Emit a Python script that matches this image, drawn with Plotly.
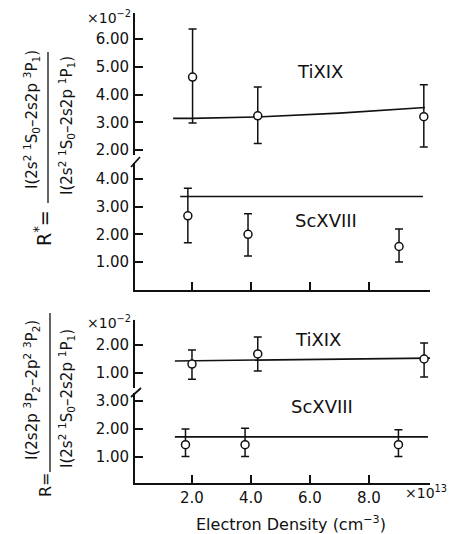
import plotly.graph_objects as go

W, H = 450, 534

# ---------------- data (electron density in 1e13 cm^-3, ratios in 1e-2) ----------------
top_ti_x = [2.02, 4.23, 9.86]
top_ti_y = [4.63, 3.23, 3.20]
top_ti_hi = [6.36, 4.27, 4.35]
top_ti_lo = [2.97, 2.23, 2.11]
top_ti_fit_x = [1.36, 2.0, 4.2, 7.0, 9.9]
top_ti_fit_y = [3.14, 3.14, 3.19, 3.33, 3.53]

top_sc_x = [1.86, 3.90, 9.02]
top_sc_y = [2.67, 2.00, 1.56]
top_sc_hi = [3.67, 2.74, 2.19]
top_sc_lo = [1.70, 1.22, 1.00]
top_sc_fit_x = [1.6, 9.83]
top_sc_fit_y = [3.37, 3.37]

bot_ti_x = [2.00, 4.23, 9.87]
bot_ti_y = [1.32, 1.68, 1.50]
bot_ti_hi = [1.82, 2.29, 2.07]
bot_ti_lo = [0.78, 1.07, 0.86]
bot_ti_fit_x = [1.42, 10.07]
bot_ti_fit_y = [1.43, 1.53]

bot_sc_x = [1.78, 3.80, 9.00]
bot_sc_y = [1.44, 1.44, 1.44]
bot_sc_hi = [2.00, 2.03, 1.97]
bot_sc_lo = [1.02, 1.02, 1.02]
bot_sc_fit_x = [1.42, 10.0]
bot_sc_fit_y = [1.72, 1.72]

x_ticks = [2, 4, 6, 8]
top_ti_ticks = [2, 3, 4, 5, 6]
top_sc_ticks = [1, 2, 3, 4]
bot_ti_ticks = [1, 2]
bot_sc_ticks = [1, 2, 3]

FONT = "DejaVu Sans"
INK = "#111111"


def px(x):
    return x / W


def py(y):
    return 1 - y / H


def dom(top, bottom):
    return [py(bottom), py(top)]


fig = go.Figure()


def add_series(xs, ys, hi, lo, fx, fy, xa, ya):
    fig.add_trace(go.Scatter(x=fx, y=fy, mode="lines", xaxis=xa, yaxis=ya,
                             line=dict(color=INK, width=1.6), showlegend=False,
                             hoverinfo="skip"))
    fig.add_trace(go.Scatter(
        x=xs, y=ys, mode="markers", xaxis=xa, yaxis=ya, showlegend=False,
        marker=dict(symbol="circle", size=8, color="white",
                    line=dict(color=INK, width=1.5)),
        error_y=dict(type="data", symmetric=False,
                     array=[h - v for h, v in zip(hi, ys)],
                     arrayminus=[v - l for v, l in zip(ys, lo)],
                     color=INK, thickness=1.5, width=4)))


add_series(top_sc_x, top_sc_y, top_sc_hi, top_sc_lo, top_sc_fit_x, top_sc_fit_y, "x", "y")
add_series(top_ti_x, top_ti_y, top_ti_hi, top_ti_lo, top_ti_fit_x, top_ti_fit_y, "x", "y2")
add_series(bot_sc_x, bot_sc_y, bot_sc_hi, bot_sc_lo, bot_sc_fit_x, bot_sc_fit_y, "x2", "y3")
add_series(bot_ti_x, bot_ti_y, bot_ti_hi, bot_ti_lo, bot_ti_fit_x, bot_ti_fit_y, "x2", "y4")

xr = [0.068, 10.07]
xdom = [px(135), px(430)]
tickfont = dict(family=FONT, size=15, color=INK)

common_x = dict(range=xr, domain=xdom, showline=True, linecolor=INK, linewidth=1.8,
                ticks="inside", ticklen=8, tickwidth=1.5, tickcolor=INK,
                tickvals=x_ticks, showgrid=False, zeroline=False,
                automargin=False, tickfont=tickfont, ticklabelstandoff=0)
common_y = dict(showline=True, linecolor=INK, linewidth=1.8, ticks="inside",
                ticklen=8, tickwidth=1.5, tickcolor=INK, showgrid=False,
                zeroline=False, automargin=False, tickformat=".2f",
                tickfont=tickfont, ticklabelstandoff=1)

fig.update_layout(
    width=W, height=H, margin=dict(l=0, r=0, t=0, b=0),
    paper_bgcolor="white", plot_bgcolor="rgba(0,0,0,0)", template="none",
    font=dict(family=FONT, color=INK),
    xaxis=dict(common_x, anchor="y", showticklabels=False),
    xaxis2=dict(common_x, anchor="y3", tickformat=".1f"),
    yaxis=dict(common_y, anchor="x", domain=dom(163, 290),
               range=[4 - (290 - 179) / 27.67, 4 - (163 - 179) / 27.67],
               tickvals=top_sc_ticks),
    yaxis2=dict(common_y, anchor="x", domain=dom(13, 155),
                range=[6 - (155 - 39) / 27.75, 6 - (13 - 39) / 27.75],
                tickvals=top_ti_ticks),
    yaxis3=dict(common_y, anchor="x2", domain=dom(393, 483),
                range=[3 - (483 - 401) / 28.0, 3 - (393 - 401) / 28.0],
                tickvals=bot_sc_ticks),
    yaxis4=dict(common_y, anchor="x2", domain=dom(320, 388),
                range=[2 - (388 - 345) / 28.0, 2 - (320 - 345) / 28.0],
                tickvals=bot_ti_ticks),
)

ann = []


def text(x, y, s, size=14, xanchor="center", yanchor="middle", angle=0):
    ann.append(dict(x=px(x), y=py(y), xref="paper", yref="paper", text=s,
                    showarrow=False, xanchor=xanchor, yanchor=yanchor,
                    textangle=angle, font=dict(family=FONT, size=size, color=INK)))


text(320, 71, "TiXIX", 18)
text(326, 220, "ScXVIII", 18)
text(318, 339, "TiXIX", 18)
text(322, 406, "ScXVIII", 18)
text(133, 17, "×10<sup>−2</sup>", 14, xanchor="right")
text(133, 322, "×10<sup>−2</sup>", 14, xanchor="right")
text(403, 492, "×10<sup>13</sup>", 14, xanchor="left")
text(291, 523, "Electron Density (cm<sup>−3</sup>)", 16)

# y-axis titles (rotated fractions)
text(31, 120, "I(2s<sup>2</sup> <sup>1</sup>S<sub>0</sub>–2s2p <sup>3</sup>P<sub>1</sub>)", 15, angle=-90)
text(66, 126, "I(2s<sup>2</sup> <sup>1</sup>S<sub>0</sub>–2s2p <sup>1</sup>P<sub>1</sub>)", 15, angle=-90)
text(43, 228, "R<sup>*</sup>=", 19, angle=-90)
text(31, 390, "I(2s2p <sup>3</sup>P<sub>2</sub>–2p<sup>2</sup> <sup>3</sup>P<sub>2</sub>)", 15, angle=-90)
text(66, 399, "I(2s<sup>2</sup> <sup>1</sup>S<sub>0</sub>–2s2p <sup>1</sup>P<sub>1</sub>)", 15, angle=-90)
text(45, 485, "R=", 16, angle=-90)

shapes = [
    dict(type="line", xref="paper", yref="paper", x0=px(48), x1=px(48), y0=py(52), y1=py(203),
         line=dict(color=INK, width=1.3)),
    dict(type="line", xref="paper", yref="paper", x0=px(50), x1=px(50), y0=py(313), y1=py(472),
         line=dict(color=INK, width=1.3)),
    dict(type="line", xref="paper", yref="paper", x0=px(131), x1=px(140), y0=py(167), y1=py(157),
         line=dict(color=INK, width=1.8)),
    dict(type="line", xref="paper", yref="paper", x0=px(131), x1=px(141), y0=py(397), y1=py(388),
         line=dict(color=INK, width=1.8)),
]

fig.update_layout(annotations=ann, shapes=shapes)
fig.write_html("out.html")
